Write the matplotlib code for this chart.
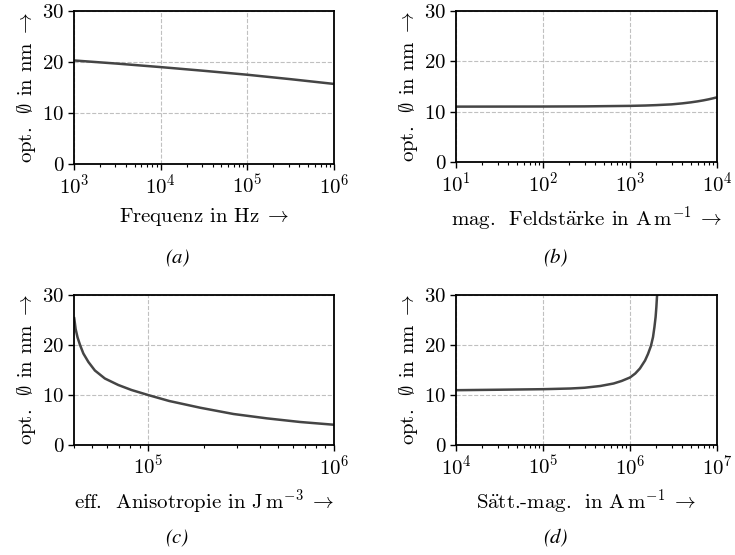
import numpy as np
import matplotlib
matplotlib.use("Agg")
import matplotlib.pyplot as plt

plt.rcParams["font.family"] = ["cmr10", "DejaVu Serif"]
plt.rcParams["mathtext.fontset"] = "cm"
plt.rcParams["axes.formatter.use_mathtext"] = True
plt.rcParams["axes.unicode_minus"] = False
plt.rcParams["font.size"] = 15

# (a) frequency sweep
freq = [1e3, 3.16e3, 1e4, 3.16e4, 1e5, 3.16e5, 1e6]
d_freq = [20.3, 19.68, 19.0, 18.27, 17.5, 16.63, 15.7]

# (b) field strength sweep
field = [10, 100, 300, 1000, 1500, 2000, 3000, 4000, 5000, 6000, 7000, 8000, 9000, 10000]
d_field = [11.0, 11.02, 11.05, 11.15, 11.22, 11.3, 11.45, 11.65, 11.85, 12.05, 12.25,
           12.45, 12.65, 12.85]

# (c) effective anisotropy sweep
aniso = [4.0e4, 4.02e4, 4.08e4, 4.18e4, 4.31e4, 4.49e4, 4.78e4, 5.18e4, 5.86e4,
         6.92e4, 8.15e4, 1e5, 1.3e5, 1.68e5, 1.91e5, 2.88e5, 4.35e5, 6.58e5, 1e6]
d_aniso = [25.6, 25.1, 23.2, 21.5, 20.0, 18.3, 16.6, 14.9, 13.3,
           12.0, 11.0, 10.0, 8.8, 7.9, 7.45, 6.2, 5.33, 4.6, 4.05]

# (d) saturation magnetisation sweep
msat = [1e4, 3e4, 1e5, 2.07e5, 3e5, 4.56e5, 6.48e5, 8e5, 1e6, 1.15e6, 1.3e6, 1.49e6,
        1.61e6, 1.74e6, 1.84e6, 1.91e6, 1.97e6, 2.01e6, 2.04e6, 2.07e6]
d_msat = [10.96, 11.05, 11.16, 11.3, 11.45, 11.8, 12.3, 12.8, 13.5, 14.3, 15.3, 16.9,
          18.2, 19.8, 21.6, 23.6, 25.6, 27.6, 29.5, 31.0]

ylab = r"opt.  $\emptyset$ in nm$\;\rightarrow$"
panels = [
    ([0.1007, 0.7045, 0.3537, 0.2757], freq, d_freq, (1e3, 1e6),
     r"Frequenz in Hz$\;\rightarrow$", "(a)", (0.241, 0.535)),
    ([0.6204, 0.7081, 0.3551, 0.2721], field, d_field, (1e1, 1e4),
     r"mag.  Feldst$\ddot{\mathrm{a}}$rke in $\mathrm{A\,m^{-1}}\;\rightarrow$", "(b)", (0.755, 0.535)),
    ([0.1007, 0.1982, 0.3537, 0.2703], aniso, d_aniso, (4e4, 1e6),
     r"eff.  Anisotropie in $\mathrm{J\,m^{-3}}\;\rightarrow$", "(c)", (0.241, 0.031)),
    ([0.6204, 0.1982, 0.3551, 0.2703], msat, d_msat, (1e4, 1e7),
     r"S$\ddot{\mathrm{a}}$tt.-mag.  in $\mathrm{A\,m^{-1}}\;\rightarrow$", "(d)", (0.755, 0.031)),
]

fig = plt.figure(figsize=(7.35, 5.55), dpi=100)
for rect, x, y, xlim, xlabel, tag, tagpos in panels:
    ax = fig.add_axes(rect)
    ax.plot(x, y, color="#454545", lw=1.8, solid_capstyle="butt")
    ax.set_xscale("log")
    ax.set_xlim(*xlim)
    ax.set_ylim(0, 30)
    ax.set_yticks([0, 10, 20, 30])
    ax.grid(True, which="major", ls="--", color="#c0c0c0", lw=0.8)
    for s in ax.spines.values():
        s.set_linewidth(1.3)
    ax.tick_params(which="major", length=4, width=1.0, pad=3)
    ax.tick_params(which="minor", length=2.5, width=0.8)
    ax.set_xlabel(xlabel, labelpad=6)
    ax.set_ylabel(ylab, labelpad=3)
    fig.text(tagpos[0], tagpos[1], tag, ha="center", va="center",
             family="STIXGeneral", style="italic", fontsize=15)

fig.savefig("out.png", dpi=100)
